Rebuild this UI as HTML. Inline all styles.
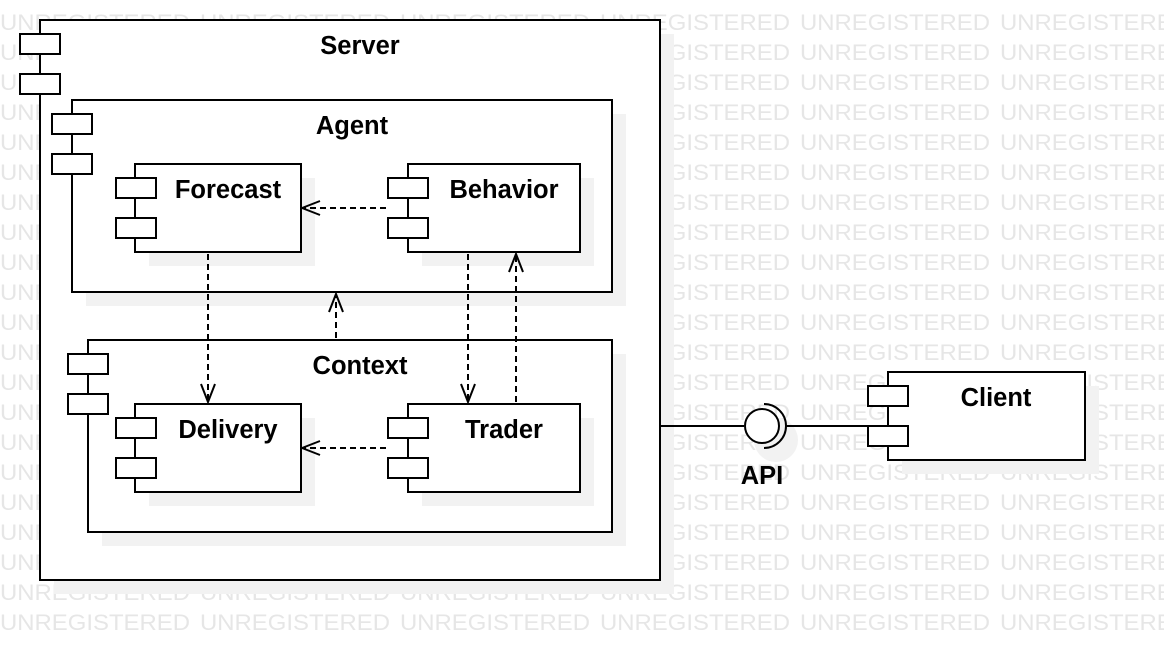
<!DOCTYPE html>
<html><head><meta charset="utf-8"><style>html,body{margin:0;padding:0;background:#fff}svg{display:block}</style></head>
<body>
<svg width="1164" height="660" viewBox="0 0 1164 660" xmlns="http://www.w3.org/2000/svg" font-family="Liberation Sans, sans-serif">
<defs>
<marker id="a" viewBox="0 0 20 20" refX="19" refY="10" markerWidth="20" markerHeight="20" markerUnits="userSpaceOnUse" orient="auto">
<path d="M1,3 L19,10 L1,17" fill="none" stroke="#000" stroke-width="2"/>
</marker>
<pattern id="wm" x="0" y="2" width="200" height="30" patternUnits="userSpaceOnUse">
<text x="0" y="28" font-size="22.5" fill="#e6e6e6" textLength="190" lengthAdjust="spacingAndGlyphs">UNREGISTERED</text>
</pattern>
</defs>
<rect x="0" y="2" width="1164" height="630" fill="url(#wm)"/>

<!-- shadows -->
<g fill="#f2f2f2">
<rect x="54" y="34" width="620" height="560"/>
<rect x="902" y="386" width="197" height="88"/>
<circle cx="776" cy="440" r="22"/>
</g>
<g stroke="#000" stroke-width="2" fill="#fff">
<rect x="40" y="20" width="620" height="560"/>
<rect x="20" y="34" width="40" height="20"/><rect x="20" y="74" width="40" height="20"/>
</g>
<g fill="#f2f2f2">
<rect x="86" y="114" width="540" height="192"/>
<rect x="102" y="354" width="524" height="192"/>
</g>
<g stroke="#000" stroke-width="2" fill="#fff">
<rect x="72" y="100" width="540" height="192"/>
<rect x="52" y="114" width="40" height="20"/><rect x="52" y="154" width="40" height="20"/>
<rect x="88" y="340" width="524" height="192"/>
<rect x="68" y="354" width="40" height="20"/><rect x="68" y="394" width="40" height="20"/>
</g>
<g fill="#f2f2f2">
<rect x="149" y="178" width="166" height="88"/>
<rect x="422" y="178" width="172" height="88"/>
<rect x="149" y="418" width="166" height="88"/>
<rect x="422" y="418" width="172" height="88"/>
</g>
<g stroke="#000" stroke-width="2" fill="#fff">
<rect x="135" y="164" width="166" height="88"/>
<rect x="116" y="178" width="40" height="20"/><rect x="116" y="218" width="40" height="20"/>
<rect x="408" y="164" width="172" height="88"/>
<rect x="388" y="178" width="40" height="20"/><rect x="388" y="218" width="40" height="20"/>
<rect x="135" y="404" width="166" height="88"/>
<rect x="116" y="418" width="40" height="20"/><rect x="116" y="458" width="40" height="20"/>
<rect x="408" y="404" width="172" height="88"/>
<rect x="388" y="418" width="40" height="20"/><rect x="388" y="458" width="40" height="20"/>
<rect x="888" y="372" width="197" height="88"/>
<rect x="868" y="386" width="40" height="20"/><rect x="868" y="426" width="40" height="20"/>
</g>
<g stroke="#000" stroke-width="2" fill="none">
<line x1="660" y1="426" x2="744" y2="426"/>
<line x1="786" y1="426" x2="868" y2="426"/>
<circle cx="762" cy="426" r="17" fill="#fff"/>
<path d="M764,404 A22,22 0 0 1 764,448"/>
</g>
<g stroke="#000" stroke-width="2" fill="none" stroke-dasharray="6,4" marker-end="url(#a)">
<line x1="386" y1="208" x2="302" y2="208"/>
<line x1="386" y1="448" x2="302" y2="448"/>
<line x1="208" y1="254" x2="208" y2="402"/>
<line x1="468" y1="254" x2="468" y2="402"/>
<line x1="516" y1="402" x2="516" y2="254"/>
<line x1="336" y1="338" x2="336" y2="294"/>
</g>
<g font-weight="bold" font-size="25.5" text-anchor="middle" fill="#000">
<text x="360" y="54">Server</text>
<text x="352" y="134">Agent</text>
<text x="228" y="198">Forecast</text>
<text x="504" y="198">Behavior</text>
<text x="360" y="374">Context</text>
<text x="228" y="438">Delivery</text>
<text x="504" y="438">Trader</text>
<text x="996" y="406">Client</text>
<text x="762" y="484">API</text>
</g>
</svg>
</body></html>
